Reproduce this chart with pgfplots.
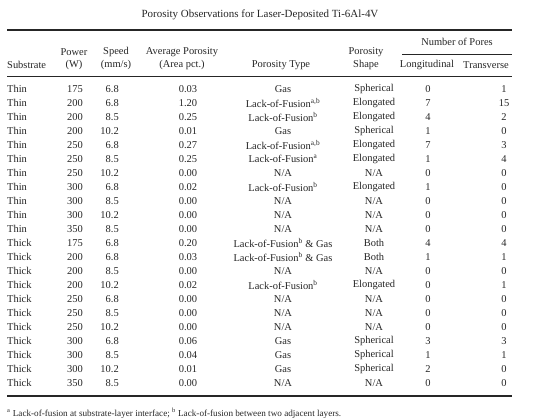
\documentclass[border=0pt]{standalone}
\usepackage{pgfplots}
\pgfplotsset{compat=1.18}
\usepackage{pgfplotstable}
\usepackage{fontspec}
\setmainfont{Liberation Serif}
\definecolor{txt}{HTML}{262626}

\pgfplotstableread[col sep=semicolon]{
Sub;Power;Speed;Avg;Type;Shape;Long;Trans
Thin;175;6.8;0.03;Gas;Spherical;0;1
Thin;200;6.8;1.20;Lack-of-Fusion\textsuperscript{a,b};Elongated;7;15
Thin;200;8.5;0.25;Lack-of-Fusion\textsuperscript{b};Elongated;4;2
Thin;200;10.2;0.01;Gas;Spherical;1;0
Thin;250;6.8;0.27;Lack-of-Fusion\textsuperscript{a,b};Elongated;7;3
Thin;250;8.5;0.25;Lack-of-Fusion\textsuperscript{a};Elongated;1;4
Thin;250;10.2;0.00;N/A;N/A;0;0
Thin;300;6.8;0.02;Lack-of-Fusion\textsuperscript{b};Elongated;1;0
Thin;300;8.5;0.00;N/A;N/A;0;0
Thin;300;10.2;0.00;N/A;N/A;0;0
Thin;350;8.5;0.00;N/A;N/A;0;0
Thick;175;6.8;0.20;Lack-of-Fusion\textsuperscript{b} \& Gas;Both;4;4
Thick;200;6.8;0.03;Lack-of-Fusion\textsuperscript{b} \& Gas;Both;1;1
Thick;200;8.5;0.00;N/A;N/A;0;0
Thick;200;10.2;0.02;Lack-of-Fusion\textsuperscript{b};Elongated;0;1
Thick;250;6.8;0.00;N/A;N/A;0;0
Thick;250;8.5;0.00;N/A;N/A;0;0
Thick;250;10.2;0.00;N/A;N/A;0;0
Thick;300;6.8;0.06;Gas;Spherical;3;3
Thick;300;8.5;0.04;Gas;Spherical;1;1
Thick;300;10.2;0.01;Gas;Spherical;2;0
Thick;350;8.5;0.00;N/A;N/A;0;0
}\datatable

\newcommand\cellfont{\fontsize{10.5}{12}\selectfont}
\pgfplotsset{
  cell/.style={draw=none, nodes near coords, point meta=explicit symbolic,
    nodes near coords style={anchor=#1, font=\cellfont, text=txt, inner sep=0pt}},
}

\begin{document}
\begin{tikzpicture}
\begin{axis}[
  scale only axis, width=535bp, height=418bp,
  xmin=0, xmax=535, ymin=0, ymax=418, y dir=reverse,
  axis lines=none, clip=false,
]
\path (axis cs:0,0) -- (axis cs:535,418);
% title
\node[font=\fontsize{11}{13}\selectfont, text=txt] at (axis cs:260,15) {Porosity Observations for Laser-Deposited Ti-6Al-4V};
% rules
\draw[txt, line width=1.6pt] (axis cs:7,30) -- (axis cs:512,30);
\draw[txt, line width=0.6pt] (axis cs:402,54) -- (axis cs:512,54);
\draw[txt, line width=0.6pt] (axis cs:7,76) -- (axis cs:512,76);
\draw[txt, line width=1.6pt] (axis cs:7,396) -- (axis cs:512,396);
% headers
\begin{scope}[every node/.style={font=\cellfont, text=txt, inner sep=0pt}]
\node at (axis cs:457,42) {Number of Pores};
\node at (axis cs:74,52) {Power};
\node at (axis cs:116,52) {Speed};
\node at (axis cs:182,52) {Average Porosity};
\node at (axis cs:366,52) {Porosity};
\node[anchor=west] at (axis cs:7,65) {Substrate};
\node at (axis cs:74,65) {(W)};
\node at (axis cs:116,65) {(mm/s)};
\node at (axis cs:182,65) {(Area pct.)};
\node at (axis cs:281,65) {Porosity Type};
\node at (axis cs:366,65) {Shape};
\node at (axis cs:427,65) {Longitudinal};
\node at (axis cs:486,65) {Transverse};
\end{scope}
% body
\addplot[cell=west] table[x expr=7, y expr=89+14*\coordindex, meta=Sub] {\datatable};
\addplot[cell=center] table[x expr=75, y expr=89+14*\coordindex, meta=Power] {\datatable};
\addplot[cell=east] table[x expr=119, y expr=89+14*\coordindex, meta=Speed] {\datatable};
\addplot[cell=center] table[x expr=188, y expr=89+14*\coordindex, meta=Avg] {\datatable};
\addplot[cell=center] table[x expr=283, y expr=89+14*\coordindex, meta=Type] {\datatable};
\addplot[cell=center] table[x expr=374, y expr=89+14*\coordindex, meta=Shape] {\datatable};
\addplot[cell=center] table[x expr=428, y expr=89+14*\coordindex, meta=Long] {\datatable};
\addplot[cell=center] table[x expr=504, y expr=89+14*\coordindex, meta=Trans] {\datatable};
% footnote
\node[anchor=west, font=\fontsize{9.2}{11}\selectfont, text=txt, inner sep=0pt] at (axis cs:7,413)
  {\textsuperscript{a} Lack-of-fusion at substrate-layer interface; \textsuperscript{b} Lack-of-fusion between two adjacent layers.};
\end{axis}
\end{tikzpicture}
\end{document}
